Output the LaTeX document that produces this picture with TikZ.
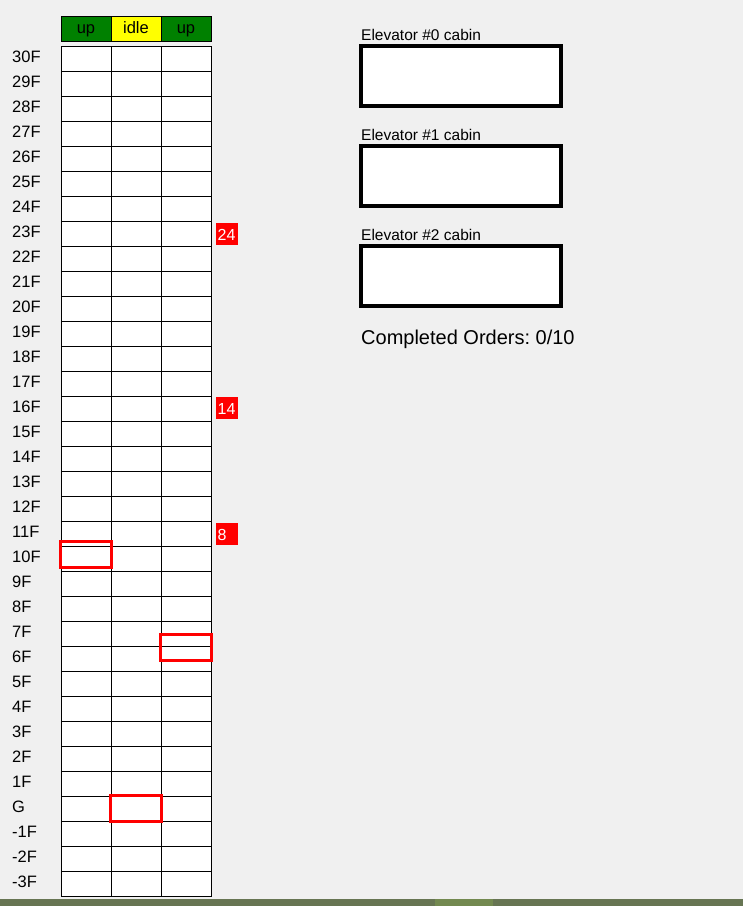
\documentclass[tikz,border=0pt]{standalone}
\usepackage{fontspec}
\setmainfont{Liberation Sans}
\frenchspacing
\definecolor{bg}{HTML}{F0F0F0}
\definecolor{hdrgreen}{HTML}{008000}
\definecolor{hdryellow}{HTML}{FFFF00}
\definecolor{callred}{HTML}{FF0000}
\definecolor{taskbar}{HTML}{677553}
\definecolor{taskbarlight}{HTML}{738950}
\begin{document}
\begin{tikzpicture}[x=1pt,y=-1pt,
  cell/.style={draw=black,line width=1pt,fill=white,minimum width=50pt,minimum height=25pt,inner sep=0pt},
  hdr/.style={draw=black,line width=1pt,minimum width=50pt,minimum height=25pt,inner sep=0pt,
    text height=12pt,text depth=2.4pt,font=\fontsize{16.5}{19}\selectfont},
  floorlab/.style={anchor=base west,inner sep=0pt,font=\fontsize{16.5}{19}\selectfont},
  cabinlab/.style={anchor=base west,inner sep=0pt,font=\fontsize{15.5}{19}\selectfont},
  cabin/.style={draw=black,line width=4pt,fill=white,minimum width=200pt,minimum height=60pt,inner sep=0pt},
  elev/.style={draw=callred,line width=3pt,minimum width=51pt,minimum height=26pt,inner sep=0pt},
  call/.style={fill=callred,text=white,anchor=north west,inner xsep=1.5pt,inner ysep=0pt,
    text width=19pt,align=left,minimum height=22pt,text height=13pt,text depth=0pt,
    font=\fontsize{16}{19}\selectfont}]
\useasboundingbox (0,0) rectangle (743,906);
\fill[bg] (0,0) rectangle (743,906);
\fill[taskbar] (0,899) rectangle (743,906);
\fill[taskbarlight] (435,899) rectangle (493,906);

% header
\node[hdr,fill=hdrgreen]  (hdr-0) at (86,28.5)  {up};
\node[hdr,fill=hdryellow] (hdr-1) at (136,28.5) {idle};
\node[hdr,fill=hdrgreen]  (hdr-2) at (186,28.5) {up};

% grid cells
\foreach \r in {0,...,33}{
  \foreach \c in {0,1,2}{
    \node[cell] (cell-\r-\c) at ({86+50*\c},{58.5+25*\r}) {};
  }
}

% floor labels
\foreach \lab [count=\i from 0] in {30F,29F,28F,27F,26F,25F,24F,23F,22F,21F,20F,19F,18F,17F,16F,15F,14F,13F,12F,11F,10F,9F,8F,7F,6F,5F,4F,3F,2F,1F,G,-1F,-2F,-3F}{
  \node[floorlab] (floor-\i) at (12,{46+25*\i+16.5}) {\lab};
}

% call requests
\node[call] (call-24) at (216,223) {24};
\node[call] (call-14) at (216,397) {14};
\node[call] (call-8)  at (216,522.5) {8};

% elevator positions
\node[elev] (elev-0) at (86,554.5) {};
\node[elev] (elev-1) at (136,808.5) {};
\node[elev] (elev-2) at (186,647.5) {};

% cabins
\node[cabinlab] (cablab-0) at (361,40.7)  {Elevator \#0 cabin};
\node[cabin]    (cabin-0)  at (461,76)    {};
\node[cabinlab] (cablab-1) at (361,140.7) {Elevator \#1 cabin};
\node[cabin]    (cabin-1)  at (461,176)   {};
\node[cabinlab] (cablab-2) at (361,240.7) {Elevator \#2 cabin};
\node[cabin]    (cabin-2)  at (461,276)   {};

\node[anchor=base west,inner sep=0pt,font=\fontsize{20}{24}\selectfont] (orders) at (361,344) {Completed Orders: 0/10};
\end{tikzpicture}
\end{document}
